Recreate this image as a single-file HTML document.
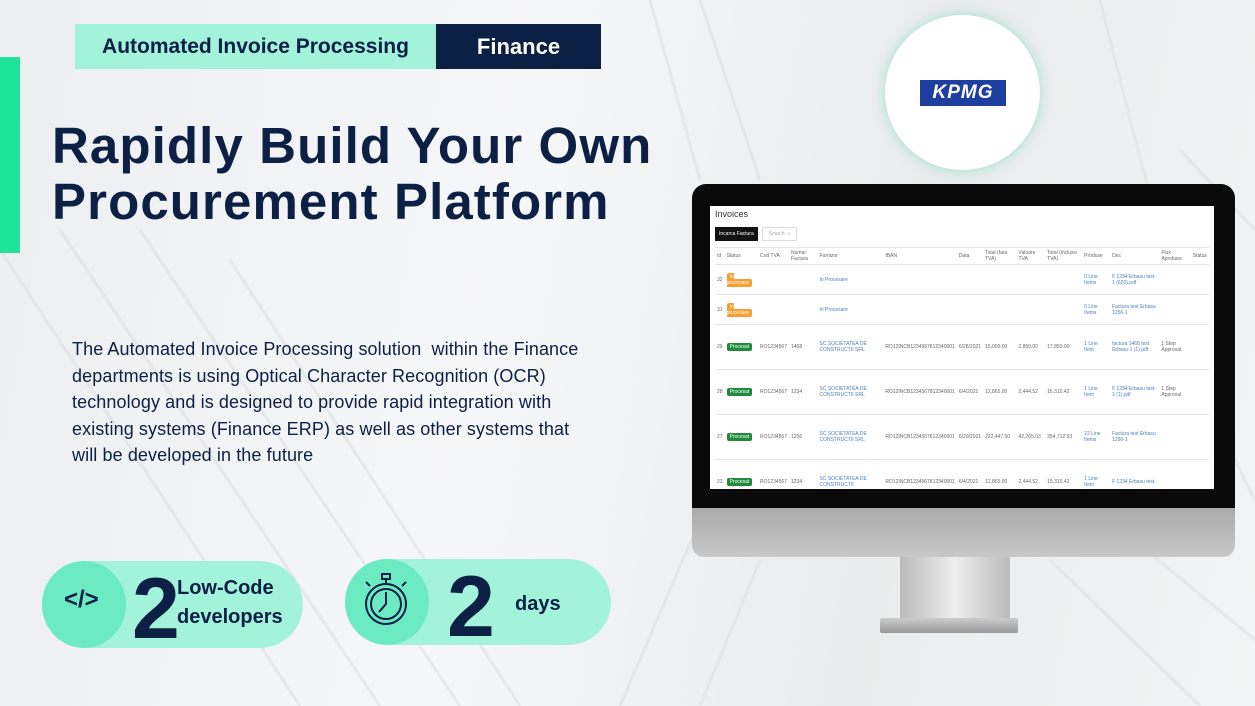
<!DOCTYPE html>
<html><head><meta charset="utf-8"><style>
*{margin:0;padding:0;box-sizing:border-box}
body{width:1255px;height:706px;overflow:hidden;position:relative;font-family:"Liberation Sans",sans-serif;background:linear-gradient(100deg,#eceef0 0%,#f6f7f8 40%,#e9ebec 70%,#f3f4f5 100%)}
.abs{position:absolute}
.tag1{left:75px;top:24px;width:361px;height:45px;background:#a3f3db;color:#0c1f44;font-weight:bold;font-size:21px;line-height:45px;text-align:center}
.tag2{left:436px;top:24px;width:165px;height:45px;background:#0c1f44;color:#fff;font-weight:bold;font-size:22px;line-height:45px;text-align:center}
.bar{left:0;top:57px;width:20px;height:196px;background:#1fe39b}
h1{position:absolute;left:52px;top:118px;font-size:51px;line-height:56px;color:#0c1f44;font-weight:bold;letter-spacing:1.1px;white-space:nowrap}
.p{left:72px;top:336px;width:600px;font-size:18px;line-height:26.5px;color:#0c1f44;white-space:nowrap;letter-spacing:0.1px}
.pill{background:#a3f3db;border-radius:45px}
.circ{background:#6cebc3;border-radius:50%}
.big{font-size:86px;font-weight:bold;color:#0c1f44;line-height:86px}
.lbl{font-size:20px;font-weight:bold;color:#0c1f44;line-height:29px}
table{border-collapse:collapse;font-size:5px;color:#666;width:100%}
td,th{padding:2px 2px;text-align:left;font-weight:normal;vertical-align:middle;border-top:1px solid #e5e5e5}
.bl{color:#4a7fc0}
.og{background:#f5a030;color:#fff;padding:1px 3px;border-radius:2px}
.gr{background:#1e8a3a;color:#fff;padding:1px 3px;border-radius:2px}
</style></head><body>
<svg class="abs" style="left:0;top:0" width="1255" height="706">
<g stroke="#dfe1e3" stroke-width="3" fill="none" opacity="0.6">
<path d="M0 250 L300 706"/><path d="M60 230 L380 706"/><path d="M140 230 L460 706"/><path d="M230 260 L520 706"/><path d="M650 0 L700 180"/><path d="M700 0 L760 180"/>
<path d="M1100 0 C1150 200 1200 400 1255 500"/><path d="M1180 150 L1255 230"/>
<path d="M700 520 L620 706"/><path d="M760 560 L700 706"/><path d="M1050 560 L1200 706"/><path d="M1110 520 L1255 640"/>
</g></svg>
<div class="abs tag1">Automated Invoice Processing</div>
<div class="abs tag2">Finance</div>
<div class="abs bar"></div>
<h1>Rapidly Build Your Own<br>Procurement Platform</h1>
<div class="abs p">The Automated Invoice Processing solution&nbsp; within the Finance<br>departments is using Optical Character Recognition (OCR)<br>technology and is designed to provide rapid integration with<br>existing systems (Finance ERP) as well as other systems that<br>will be developed in the future</div>

<div class="abs" style="left:885px;top:15px;width:155px;height:155px;border-radius:50%;background:#fff;box-shadow:0 0 12px rgba(80,220,170,0.5)"></div>
<div class="abs" style="left:920px;top:80px;width:86px;height:26px;background:#1f3fa0;color:#fff;font-style:italic;font-weight:bold;font-size:19px;text-align:center;line-height:26px;letter-spacing:1px">KPMG</div>

<!-- monitor -->
<div class="abs" style="left:692px;top:184px;width:543px;height:326px;background:#0a0a0a;border-radius:14px 14px 0 0"></div>
<div class="abs" style="left:692px;top:508px;width:543px;height:49px;background:linear-gradient(#aaa,#c8c8c8);border-radius:0 0 12px 12px"></div>
<div class="abs" style="left:900px;top:557px;width:110px;height:63px;background:linear-gradient(90deg,#bbb,#eee,#bbb)"></div>
<div class="abs" style="left:880px;top:618px;width:138px;height:15px;background:linear-gradient(#ccc,#999);border-radius:2px"></div>
<div class="abs" style="left:710px;top:206px;width:504px;height:283px;background:#fff;overflow:hidden;padding:3px 5px">
<div style="font-size:9px;color:#333;margin-bottom:8px">Invoices</div>
<div style="display:flex;gap:4px;margin-bottom:6px"><span style="background:#111;color:#fff;font-size:5px;padding:4px 4px">Incarca Factura</span><span style="border:1px solid #ddd;font-size:5px;padding:3px 6px;color:#aaa">Search &nbsp;⌕</span></div>
<table>
<tr><th>Id</th><th>Status</th><th>Cod TVA</th><th>Numar Factura</th><th>Furnizor</th><th>IBAN</th><th>Data</th><th>Total (fara TVA)</th><th>Valoare TVA</th><th>Total (inclusiv TVA)</th><th>Produse</th><th>Doc</th><th>Flux Aprobare</th><th>Status</th></tr>
<tr style="height:30px"><td>32</td><td><span class="og">In procesare</span></td><td></td><td></td><td class="bl">In Procesare</td><td></td><td></td><td></td><td></td><td></td><td class="bl">0 Line Items</td><td class="bl">F 1234 Erbasu test-1 (620).pdf</td><td></td><td></td></tr>
<tr style="height:30px"><td>31</td><td><span class="og">In procesare</span></td><td></td><td></td><td class="bl">In Procesare</td><td></td><td></td><td></td><td></td><td></td><td class="bl">0 Line Items</td><td class="bl">Factura test Erbasu 1256-1</td><td></td><td></td></tr>
<tr style="height:45px"><td>29</td><td><span class="gr">Procesat</span></td><td>RO1234567</td><td>1468</td><td class="bl">SC SOCIETATEA DE CONSTRUCTII SRL</td><td>RO12INCB1234567812340001</td><td>6/28/2021</td><td>15,000.00</td><td>2,850.00</td><td>17,850.00</td><td class="bl">1 Line Item</td><td class="bl">factura 1468 test Erbasu-1 (1).pdf</td><td>1 Step Approval</td><td></td></tr>
<tr style="height:45px"><td>28</td><td><span class="gr">Procesat</span></td><td>RO1234567</td><td>1234</td><td class="bl">SC SOCIETATEA DE CONSTRUCTII SRL</td><td>RO12INCB1234567812340001</td><td>6/4/2021</td><td>12,865.00</td><td>2,444.52</td><td>15,310.42</td><td class="bl">1 Line Item</td><td class="bl">F 1234 Erbasu test-1 (1).pdf</td><td>1 Step Approval</td><td></td></tr>
<tr style="height:45px"><td>27</td><td><span class="gr">Procesat</span></td><td>RO1234567</td><td>1256</td><td class="bl">SC SOCIETATEA DE CONSTRUCTII SRL</td><td>RO12INCB1234567812340001</td><td>6/20/2021</td><td>222,447.50</td><td>42,265.03</td><td>264,712.53</td><td class="bl">22 Line Items</td><td class="bl">Factura test Erbasu 1256-1</td><td></td><td></td></tr>
<tr style="height:45px"><td>23</td><td><span class="gr">Procesat</span></td><td>RO1234567</td><td>1234</td><td class="bl">SC SOCIETATEA DE CONSTRUCTII</td><td>RO12INCB1234567812340001</td><td>6/4/2021</td><td>12,865.00</td><td>2,444.52</td><td>15,310.42</td><td class="bl">1 Line Item</td><td class="bl">F 1234 Erbasu test</td><td></td><td></td></tr>
</table></div>

<!-- badges -->
<div class="abs pill" style="left:42px;top:561px;width:261px;height:87px"></div>
<div class="abs circ" style="left:42px;top:561px;width:84px;height:87px"></div>
<div class="abs" style="left:64px;top:586px;font-size:24px;color:#0c1f44;font-weight:bold">&lt;/&gt;</div>
<div class="abs big" style="left:132px;top:566px">2</div>
<div class="abs lbl" style="left:177px;top:574px">Low-Code<br>developers</div>

<div class="abs pill" style="left:345px;top:559px;width:266px;height:86px"></div>
<div class="abs circ" style="left:345px;top:559px;width:84px;height:86px"></div>
<svg class="abs" style="left:360px;top:570px" width="56" height="62"><g fill="none" stroke="#0c1f44" stroke-width="2"><circle cx="26" cy="34" r="20"/><circle cx="26" cy="34" r="15"/><rect x="22" y="4" width="8" height="5"/><path d="M26 9v5M10 16l-4-4M42 16l4-4M26 22v12l-7 8"/></g></svg>
<div class="abs big" style="left:447px;top:564px">2</div>
<div class="abs lbl" style="left:515px;top:590px">days</div>
</body></html>
